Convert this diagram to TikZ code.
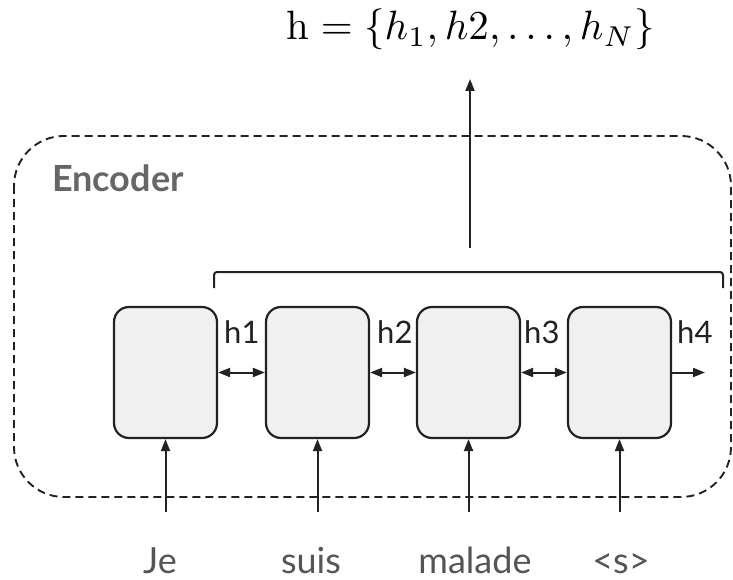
\documentclass[tikz,border=0pt]{standalone}
\usepackage{fontspec}
\usepackage{graphicx}
\usetikzlibrary{arrows.meta}
\newfontfamily\lato{Lato}
\definecolor{cellfill}{HTML}{F0F0F0}
\definecolor{ink}{HTML}{222222}
\definecolor{wordgray}{HTML}{555555}
\definecolor{titlegray}{HTML}{666666}
\begin{document}
\begin{tikzpicture}[x=1pt,y=-1pt,
  cell/.style={draw=ink,fill=cellfill,line width=2.2pt,rounded corners=15pt,
    minimum width=103pt,minimum height=131pt,inner sep=0pt},
  conn/.style={draw=ink,line width=2pt,-{Triangle[length=12pt,width=9pt]}},
  biconn/.style={draw=ink,line width=2pt,{Triangle[length=12pt,width=9pt]}-{Triangle[length=12pt,width=9pt]}},
  hlabel/.style={anchor=base west,inner sep=0pt,text=ink,font=\lato\fontsize{31}{36}\selectfont},
  word/.style={anchor=base,inner sep=0pt,text=wordgray,font=\lato\fontsize{36}{40}\selectfont}]
\useasboundingbox (0,0) rectangle (733,580);

% encoder frame
\draw[ink,line width=1.9pt,dash pattern=on 8pt off 5pt,rounded corners=50pt]
  (14,136) rectangle (731,497);
\node[anchor=base west,inner sep=0pt,text=titlegray,font=\lato\bfseries\fontsize{36}{40}\selectfont]
  (enc) at (52,192) {Encoder};

% recurrent cells
\node[cell] (b1) at (165.5,372.5) {};
\node[cell] (b2) at (317.5,372.5) {};
\node[cell] (b3) at (468.5,372.5) {};
\node[cell] (b4) at (619.5,372.5) {};

% hidden states between cells
\draw[biconn] (b1.east) -- (b2.west);
\draw[biconn] (b2.east) -- (b3.west);
\draw[biconn] (b3.east) -- (b4.west);
\coordinate (out4) at (705,372.5);
\draw[conn] (b4.east) -- (out4);

\node[hlabel] (h1) at (224,343) {h1};
\node[hlabel] (h2) at (377,343) {h2};
\node[hlabel] (h3) at (524,343) {h3};
\node[hlabel] (h4) at (677,343) {h4};

% input words
\coordinate (in1) at (165.5,512);
\coordinate (in2) at (317.5,512);
\coordinate (in3) at (468.5,512);
\coordinate (in4) at (619.5,512);
\draw[conn] (in1) -- (b1.south);
\draw[conn] (in2) -- (b2.south);
\draw[conn] (in3) -- (b3.south);
\draw[conn] (in4) -- (b4.south);

\node[word] (w1) at (160,573) {Je};
\node[word] (w2) at (311,573) {suis};
\node[word] (w3) at (475,573) {malade};
\node[word] (w4) at (621,573) {<s>};

% collected states
\draw[ink,line width=2pt,rounded corners=3pt]
  (214,288) -- (214,272) -- (723,272) -- (723,288);
\coordinate (up0) at (470,248);
\coordinate (up1) at (470,79);
\draw[conn] (up0) -- (up1);

\node[anchor=base,inner sep=0pt] (hset) at (471,40)
  {\scalebox{4.1}{$\mathrm{h}=\{h_1, h2, \ldots, h_N\}$}};
\end{tikzpicture}
\end{document}
